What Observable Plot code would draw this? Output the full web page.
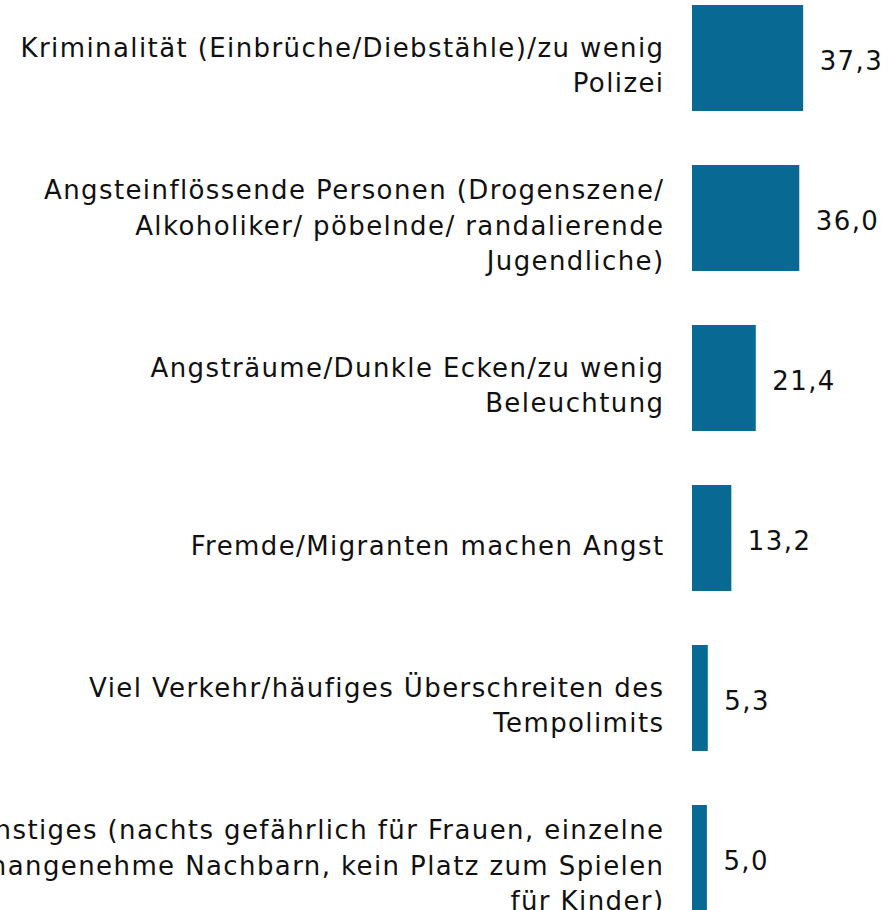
<!DOCTYPE html>
<html>
<head>
<meta charset="utf-8">
<script src="https://cdn.jsdelivr.net/npm/d3@7"></script>
<script src="https://cdn.jsdelivr.net/npm/@observablehq/plot@0.6"></script>
<style>
  html, body { margin: 0; padding: 0; background: #fff; overflow: hidden; }
  #chart svg { display: block; }
  #chart svg text { letter-spacing: 1.4px; }
</style>
</head>
<body>
<div id="chart"></div>
<script>
const categories = [
  "Kriminalität (Einbrüche/Diebstähle)/zu wenig\nPolizei",
  "Angsteinflössende Personen (Drogenszene/\nAlkoholiker/ pöbelnde/ randalierende\nJugendliche)",
  "Angsträume/Dunkle Ecken/zu wenig\nBeleuchtung",
  "Fremde/Migranten machen Angst",
  "Viel Verkehr/häufiges Überschreiten des\nTempolimits",
  "Sonstiges (nachts gefährlich für Frauen, einzelne\nunangenehme Nachbarn, kein Platz zum Spielen\nfür Kinder)"
];
const values = [37.3, 36.0, 21.4, 13.2, 5.3, 5.0];

const data = categories.map((c, i) => ({category: c, value: values[i]}));
const fmt = v => d3.format(".1f")(v).replace(".", ",");

const chart = Plot.plot({
  width: 892,
  height: 910,
  style: {fontFamily: "'DejaVu Sans', sans-serif", fontSize: "26px", color: "#111", background: "#fff"},
  x: {domain: [0, 40], range: [692, 692 + 40 * 2.98], axis: null},
  y: {domain: categories, range: [5, 911], paddingInner: 0.3375, paddingOuter: 0, align: 0, axis: null},
  marks: [
    Plot.barX(data, {x: "value", y: "category", fill: "#086a93"}),
    Plot.text(data, {
      x: 0, y: "category", text: "category",
      textAnchor: "end", lineAnchor: "middle", lineHeight: 1.36,
      dx: -28, dy: 5, fontSize: 26, fill: "#111"
    }),
    Plot.text(data, {
      x: "value", y: "category", text: d => fmt(d.value),
      textAnchor: "start", dx: 16, dy: 3, fontSize: 26, fill: "#111"
    })
  ]
});
document.getElementById("chart").appendChild(chart);
</script>
</body>
</html>
